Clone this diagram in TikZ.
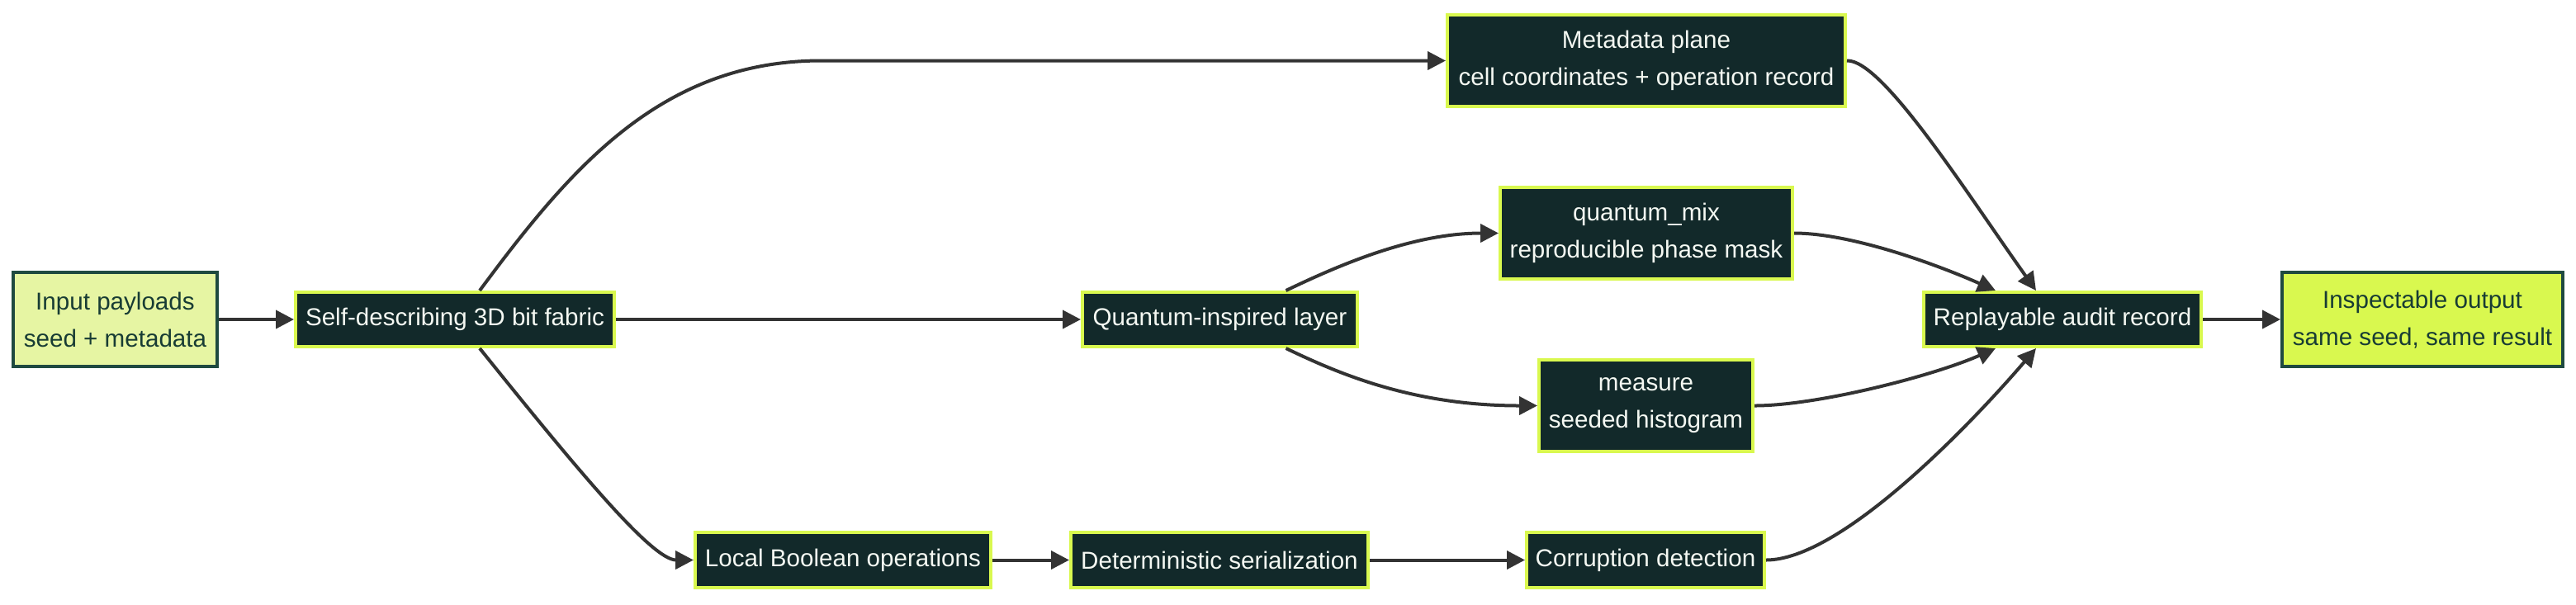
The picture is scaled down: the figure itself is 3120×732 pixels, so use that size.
\documentclass[tikz,border=0pt]{standalone}
\usepackage{fontspec}
\setmainfont{Liberation Sans}
\usetikzlibrary{arrows.meta}
\definecolor{darkfill}{HTML}{12292A}
\definecolor{limecol}{HTML}{D9F84F}
\definecolor{lightfill}{HTML}{E6F5A3}
\definecolor{darkborder}{HTML}{1F4A40}
\definecolor{edgecol}{HTML}{333333}
\definecolor{darktext}{HTML}{183C34}
\definecolor{lighttext}{HTML}{F4F8F2}
\begin{document}
\begin{tikzpicture}[x=0.25pt,y=-0.25pt,
  box/.style={rectangle, draw=limecol, line width=1pt, fill=darkfill, text=lighttext,
    font=\fontsize{7.4}{11.25}\selectfont, align=center, inner sep=0pt, minimum height=16.5pt},
  tallbox/.style={box, minimum height=27.75pt},
  lightbox/.style={box, draw=darkborder, fill=lightfill, text=darktext, minimum height=28.5pt},
  outbox/.style={lightbox, fill=limecol},
  conn/.style={draw=edgecol, line width=1pt, -{Triangle[length=5.5pt,width=5.5pt]}}
]
\useasboundingbox (0,0) rectangle (3120,732);

\node[lightbox, minimum width=61.75pt] (inp) at (139.5,387) {Input payloads\\seed + metadata};
\node[box, minimum width=96.5pt] (fab) at (551,387) {Self-describing 3D bit fabric};
\node[tallbox, minimum width=120.5pt] (meta) at (1994,73.5) {Metadata plane\\cell coordinates + operation record};
\node[box, minimum width=83.25pt] (qil) at (1477.5,387) {Quantum-inspired layer};
\node[tallbox, minimum width=88.5pt] (qmix) at (1994,282.5) {quantum\_mix\\reproducible phase mask};
\node[tallbox, minimum width=64.75pt] (meas) at (1993.5,491.5) {measure\\seeded histogram};
\node[box, minimum width=84pt] (rep) at (2498,387) {Replayable audit record};
\node[outbox, minimum width=85pt] (out) at (2934,387) {Inspectable output\\same seed, same result};
\node[box, minimum width=89.5pt, minimum height=16.75pt] (loc) at (1021,678.5) {Local Boolean operations};
\node[box, minimum width=90pt, minimum height=16.75pt] (det) at (1477,678.5) {Deterministic serialization};
\node[box, minimum width=72pt, minimum height=16.75pt] (cor) at (1993,678.5) {Corruption detection};

\draw[conn] (inp) -- (fab);
\draw[conn] ([xshift=7.5pt]fab.north) .. controls (690,205) and (800,73.5) .. (995,73.5) -- (meta.west);
\draw[conn] (fab) -- (qil);
\draw[conn] ([xshift=7.5pt]fab.south) .. controls (700,570) and (790,678.5) .. (loc.west);
\draw[conn] ([xshift=20pt]qil.north) .. controls (1620,322) and (1710,282.5) .. (qmix.west);
\draw[conn] ([xshift=20pt]qil.south) .. controls (1620,452) and (1710,491.5) .. (meas.west);
\draw[conn] (loc) -- (det);
\draw[conn] (det) -- (cor);
\draw[conn] (meta.east) .. controls (2280,72) and (2382,234) .. ([xshift=-8pt]rep.north);
\draw[conn] (qmix.east) .. controls (2240,282.5) and (2340,318) .. ([xshift=-20.25pt]rep.north);
\draw[conn] (meas.east) .. controls (2200,491.5) and (2340,456) .. ([xshift=-20.25pt]rep.south);
\draw[conn] (cor.east) .. controls (2230,678.5) and (2387,514) .. ([xshift=-8pt]rep.south);
\draw[conn] (rep) -- (out);
\end{tikzpicture}
\end{document}
